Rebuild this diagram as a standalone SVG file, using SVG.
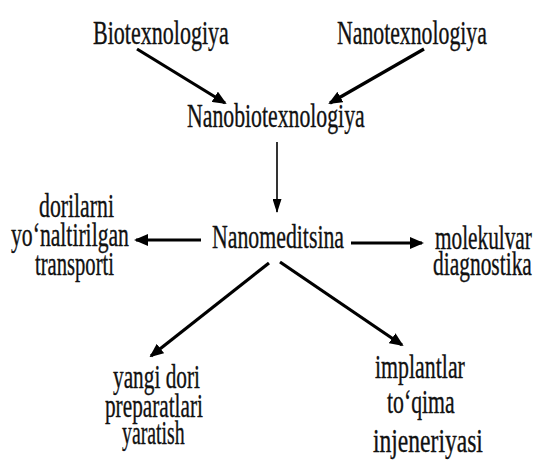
<svg xmlns="http://www.w3.org/2000/svg" width="539" height="463" viewBox="0 0 539 463">
<style>
text{font-family:"Liberation Serif","Times New Roman",serif;font-size:33px;fill:#111;stroke:#111;stroke-width:0.35;}
.c{stroke:#000;stroke-width:3.2;fill:none;}
.t{stroke:#000;stroke-width:1.6;fill:none;}
</style>
<defs>
<marker id="ah" viewBox="0 0 14 12" refX="12" refY="6" markerWidth="14" markerHeight="12" markerUnits="userSpaceOnUse" orient="auto">
<path d="M0,0 L14,6 L0,12 Z" fill="#000"/>
</marker>
<marker id="ahs" viewBox="0 0 14 9" refX="13" refY="4.5" markerWidth="14" markerHeight="9" markerUnits="userSpaceOnUse" orient="auto">
<path d="M0,0 L14,4.5 L0,9 Z" fill="#000"/>
</marker>
</defs>
<rect width="539" height="463" fill="#fff"/>
<g id="connectors">
<line class="c" x1="137" y1="49" x2="225" y2="103" marker-end="url(#ah)"/>
<line class="c" x1="424" y1="49" x2="330" y2="103" marker-end="url(#ah)"/>
<line class="t" x1="277" y1="142" x2="277" y2="212" marker-end="url(#ahs)"/>
<line class="c" x1="201" y1="240" x2="136" y2="240" marker-end="url(#ah)"/>
<line class="c" x1="351" y1="243" x2="422" y2="243" marker-end="url(#ah)"/>
<line class="c" x1="269" y1="263" x2="151" y2="356" marker-end="url(#ah)"/>
<line class="c" x1="280" y1="262" x2="402" y2="345" marker-end="url(#ah)"/>
</g>
<g id="biotexnologiya"><text transform="translate(93,44) scale(0.668,1)">Biotexnologiya</text></g>
<g id="nanotexnologiya"><text transform="translate(337,44) scale(0.66,1)">Nanotexnologiya</text></g>
<g id="nanobiotexnologiya"><text transform="translate(187,127) scale(0.66,1)">Nanobiotexnologiya</text></g>
<g id="nanomeditsina"><text transform="translate(212,248) scale(0.661,1)">Nanomeditsina</text></g>
<g id="dorilarni">
<text transform="translate(39,217) scale(0.66,1)">dorilarni</text>
<text transform="translate(11,246) scale(0.657,1)">yo‘naltirilgan</text>
<text transform="translate(35,275) scale(0.625,1)">transporti</text>
</g>
<g id="molekulvar">
<text transform="translate(435,249) scale(0.645,1)">molekulvar</text>
<text transform="translate(433,275) scale(0.65,1)">diagnostika</text>
</g>
<g id="yangi">
<text transform="translate(113,388) scale(0.646,1)">yangi dori</text>
<text transform="translate(105,417) scale(0.644,1)">preparatlari</text>
<text transform="translate(122,444) scale(0.6,1)">yaratish</text>
</g>
<g id="implantlar">
<text transform="translate(375,378) scale(0.663,1)">implantlar</text>
<text transform="translate(387,413) scale(0.66,1)">to‘qima</text>
<text transform="translate(373,452) scale(0.714,1)">injeneriyasi</text>
</g>
</svg>
